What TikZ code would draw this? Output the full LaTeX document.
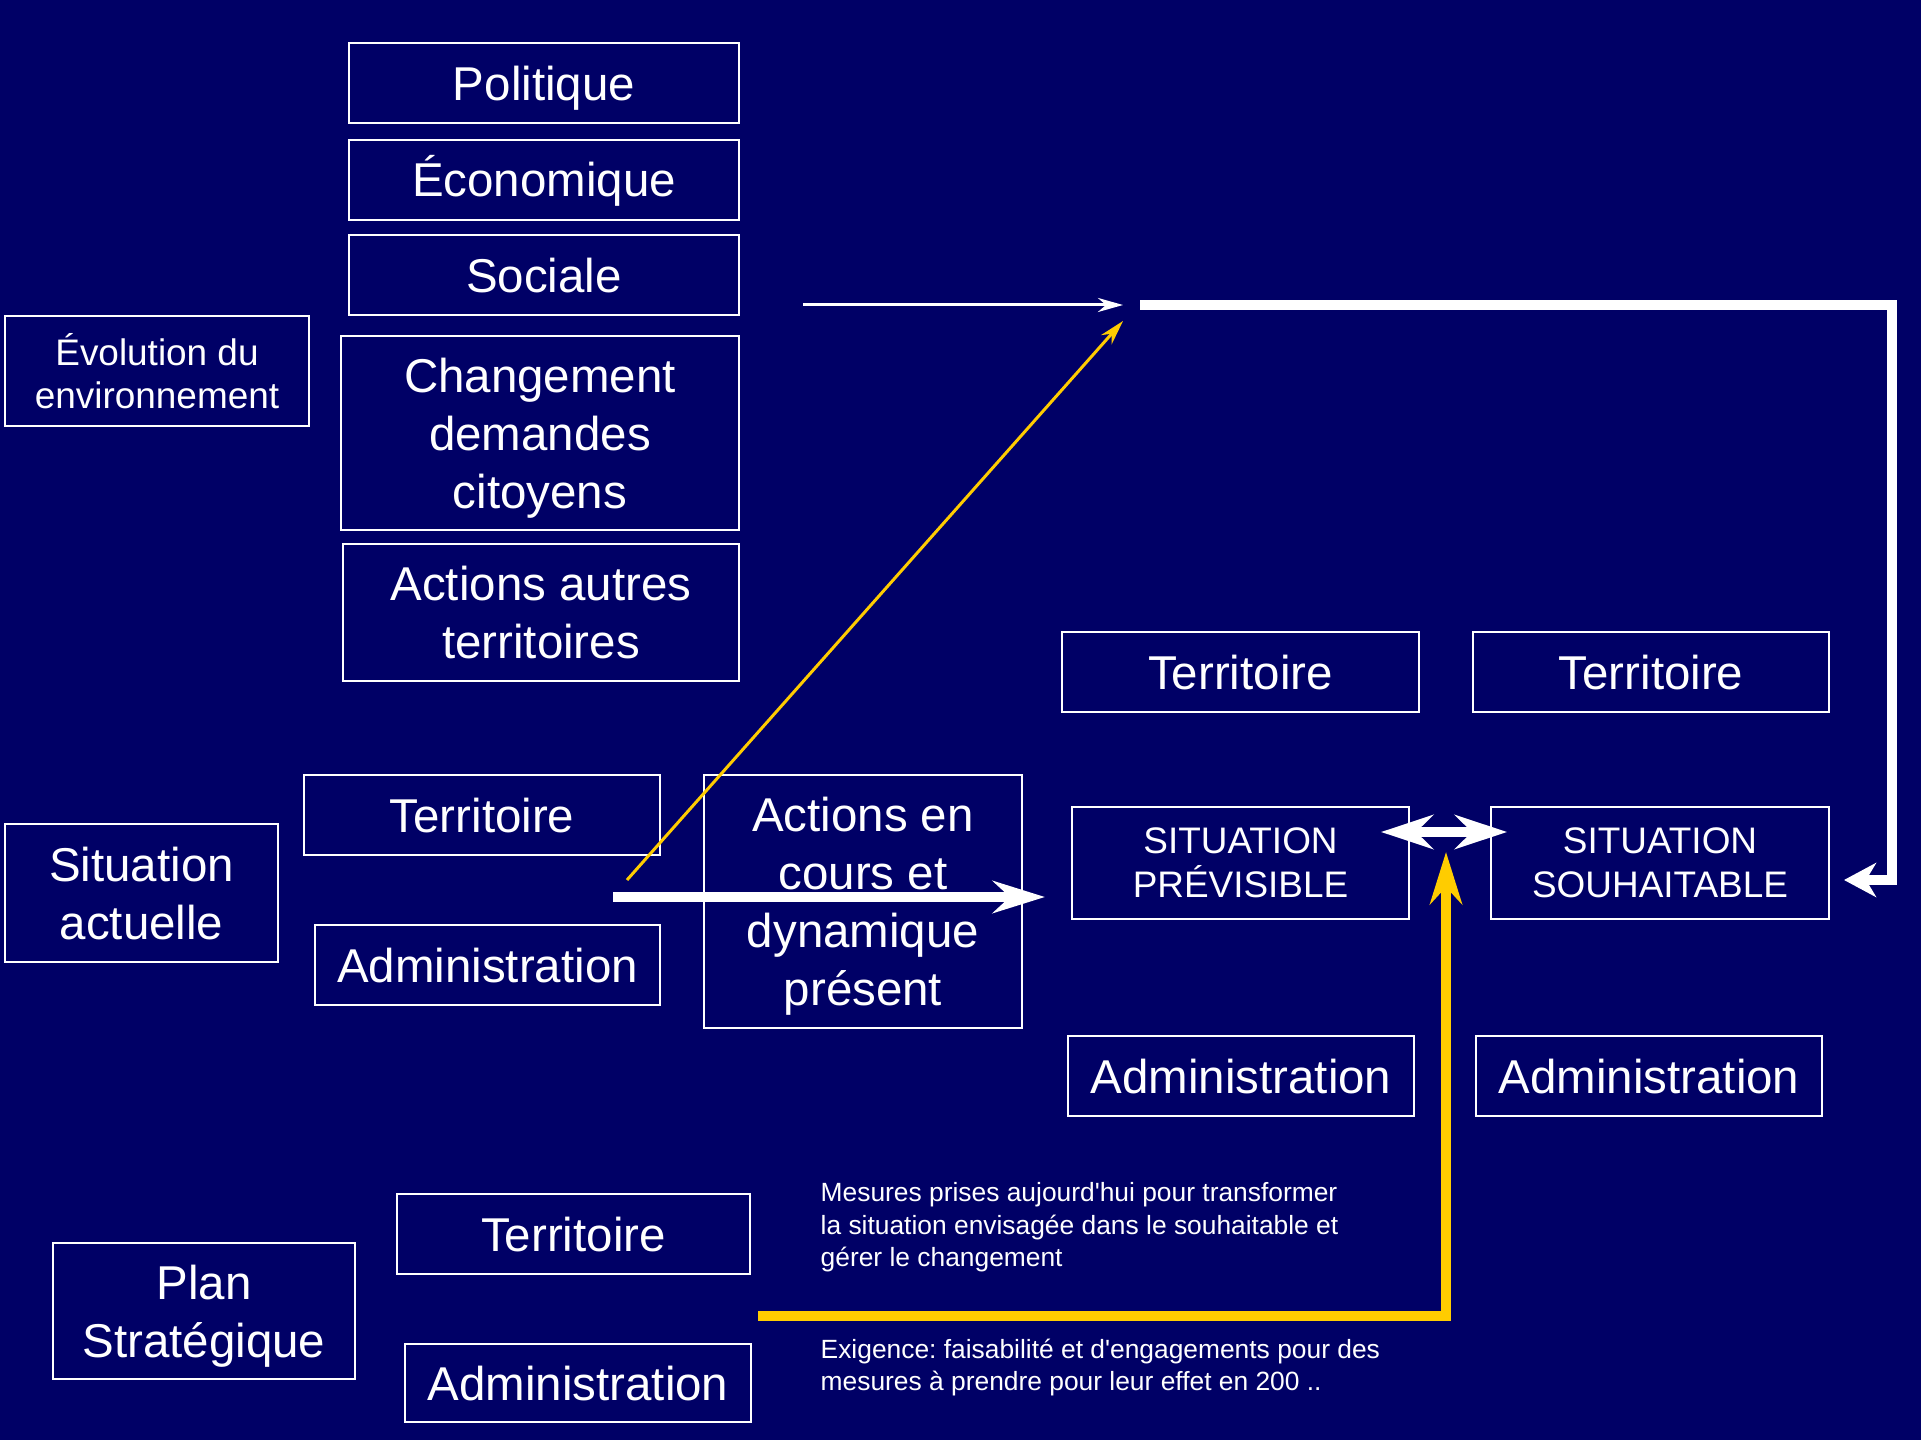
\documentclass[tikz,border=0pt]{standalone}
\usepackage{fontspec}
\setmainfont{Liberation Sans}
\usetikzlibrary{arrows.meta}
\frenchspacing
\definecolor{fond}{RGB}{0,0,102}
\definecolor{jaune}{RGB}{255,204,0}
\newcommand{\txtgrand}{\fontsize{13.5}{16.5}\selectfont}
\newcommand{\txtmoyen}{\fontsize{10.5}{12.5}\selectfont}
\newcommand{\txtpetit}{\fontsize{7.5}{9.25}\selectfont}
\tikzstyle{cadre}=[draw=white, line width=0.6pt, text=white, align=center, inner sep=0pt, text depth=0pt, font=\txtgrand]
\tikzstyle{ligne}=[cadre, minimum height=0.8cm]
\tikzstyle{note}=[text=white, align=left, inner sep=0pt, anchor=north west, font=\txtpetit]
\tikzstyle{fin}=[draw=white, line width=0.85pt, -{Stealth[length=0.25cm, width=0.14cm, inset=0.08cm]}]
\tikzstyle{epais}=[draw=white, line width=2.85pt]
\tikzstyle{pointe}=[-{Stealth[length=0.52cm, width=0.32cm, inset=0.17cm]}]

\begin{document}
\begin{tikzpicture}[x=0.01cm, y=-0.01cm]
				%Le fond
				\fill[fond] (0,0) rectangle (1921,1440);
				\useasboundingbox (0,0) rectangle (1921,1440);

				%Evolution du environnement
				\draw (157,371) node[cadre, font=\txtmoyen, minimum width=3.04cm, minimum height=1.1cm] (evo) {Évolution du\\environnement};
				\draw (544,83) node[ligne, minimum width=3.9cm] (pol) {Politique};
				\draw (544,180) node[ligne, minimum width=3.9cm, text height=0.33cm] (eco) {Économique};
				\draw (544,275) node[ligne, minimum width=3.9cm] (soc) {Sociale};
				\draw (540,433) node[cadre, minimum width=3.98cm, minimum height=1.94cm] (chg) {Changement\\demandes\\citoyens};
				\draw (541,612.5) node[cadre, minimum width=3.96cm, minimum height=1.37cm] (aut) {Actions autres\\territoires};

				%Situation actuelle
				\draw (141.5,893) node[cadre, minimum width=2.73cm, minimum height=1.38cm] (sit) {Situation\\actuelle};
				\draw (482,815) node[ligne, minimum width=3.56cm] (ter1) {Territoire};
				\draw (487.5,965) node[ligne, minimum width=3.45cm] (adm1) {Administration};
				\draw (863,901.5) node[cadre, minimum width=3.18cm, minimum height=2.53cm] (act) {Actions en\\cours et\\dynamique\\présent};

				%Situations futures
				\draw (1240.5,672) node[ligne, minimum width=3.57cm] (ter2) {Territoire};
				\draw (1651,672) node[ligne, minimum width=3.56cm] (ter3) {Territoire};
				\draw (1240.5,863) node[cadre, font=\txtmoyen, minimum width=3.37cm, minimum height=1.12cm] (prev) {SITUATION\\PRÉVISIBLE};
				\draw (1660,863) node[cadre, font=\txtmoyen, minimum width=3.38cm, minimum height=1.12cm] (souh) {SITUATION\\SOUHAITABLE};
				\draw (1241,1076) node[ligne, minimum width=3.46cm] (adm2) {Administration};
				\draw (1649,1076) node[ligne, minimum width=3.46cm] (adm3) {Administration};

				%Plan strategique
				\draw (204,1311) node[cadre, minimum width=3.02cm, minimum height=1.36cm] (plan) {Plan\\Stratégique};
				\draw (573.5,1234) node[ligne, minimum width=3.53cm] (ter4) {Territoire};
				\draw (578,1383) node[ligne, minimum width=3.46cm, minimum height=0.78cm] (adm4) {Administration};

				%Les textes
				\draw (820,1182) node[note] (mes) {Mesures prises aujourd\textquotesingle hui pour transformer\\la situation envisagée dans le souhaitable et\\gérer le changement};
				\draw (820,1338) node[note] (exi) {Exigence: faisabilité et d\textquotesingle engagements pour des\\mesures à prendre pour leur effet en 200 ..};

				%Les fleches
				\coordinate (env) at (803,305);
				\coordinate (but) at (1123,305);
				\coordinate (pied) at (627,880);
				\coordinate (tete) at (1123,321);
				\coordinate (dep) at (1140,305);
				\coordinate (coin) at (1892,305);
				\coordinate (arr) at (1844,880);
				\coordinate (act1) at (613,897);
				\coordinate (act2) at (1045,897);
				\coordinate (ecart1) at (1381,832);
				\coordinate (ecart2) at (1507,832);
				\coordinate (mes1) at (758,1316);
				\coordinate (mes2) at (1446,1316);
				\coordinate (mes3) at (1446,852);

				\draw[fin] (env) -- (but);
				\draw[fin, draw=jaune] (pied) -- (tete);
				\draw[epais, -{Stealth[length=0.32cm, width=0.34cm, inset=0.1cm]}] (dep) -- (coin) |- (arr);
				\draw[epais, pointe] (act1) -- (act2);
				\draw[epais, {Stealth[length=0.52cm, width=0.34cm, inset=0.17cm]}-{Stealth[length=0.52cm, width=0.34cm, inset=0.17cm]}] (ecart1) -- (ecart2);
				\draw[epais, pointe, draw=jaune] (mes1) -- (mes2) -- (mes3);
			\end{tikzpicture}
\end{document}
